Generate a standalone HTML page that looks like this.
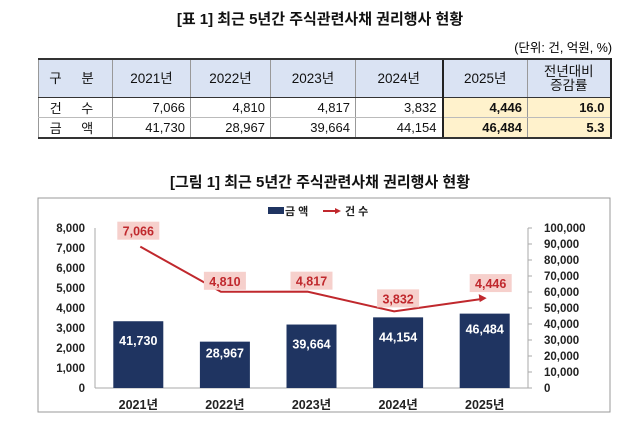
<!DOCTYPE html>
<html><head><meta charset="utf-8"><style>
body{margin:0;width:640px;height:432px;background:#fff;font-family:"Liberation Sans","Noto Sans CJK KR",sans-serif;position:relative;overflow:hidden}
.t{position:absolute;font-weight:bold;font-size:15px;color:#111;left:0;width:640px;text-align:center}
table{position:absolute;left:38px;top:58px;border-collapse:collapse;font-size:13px;color:#111;table-layout:fixed;width:572px}
td{border:1px solid #999;border-top:none;border-bottom:1px solid #bbb;padding:0 5px;text-align:right;height:19px;overflow:hidden}
tr.h td{background:#dae3f3;text-align:center;height:37px;border-top:2px solid #333;border-bottom:1px solid #333;font-size:13.5px;line-height:14px}
td.c{text-align:center;letter-spacing:8px}
tr:last-child td{border-bottom:2px solid #333}
.y{background:#fff2cc;font-weight:bold}
</style></head><body>
<div class="t" style="top:8px">[표 1] 최근 5년간 주식관련사채 권리행사 현황</div>
<div style="position:absolute;right:28px;top:37px;font-size:12.5px">(단위: 건, 억원, %)</div>
<table>
<colgroup><col style="width:74px"><col style="width:78px"><col style="width:80px"><col style="width:85px"><col style="width:87px"><col style="width:85px"><col style="width:83px"></colgroup>
<tr class="h"><td class="c">구 분</td><td>2021년</td><td>2022년</td><td>2023년</td><td>2024년</td><td style="border-left:2px solid #222">2025년</td><td style="border-right:2px solid #222">전년대비<br>증감률</td></tr>
<tr><td class="c">건 수</td><td>7,066</td><td>4,810</td><td>4,817</td><td>3,832</td><td class="y" style="border-left:2px solid #222">4,446</td><td class="y" style="border-right:2px solid #222">16.0</td></tr>
<tr><td class="c">금 액</td><td>41,730</td><td>28,967</td><td>39,664</td><td>44,154</td><td class="y" style="border-left:2px solid #222">46,484</td><td class="y" style="border-right:2px solid #222">5.3</td></tr>
</table>
<div class="t" style="top:171px">[그림 1] 최근 5년간 주식관련사채 권리행사 현황</div>
<svg id="c" width="640" height="432" style="position:absolute;left:0;top:0">
<rect x="38" y="198" width="572" height="214" fill="none" stroke="#999"/>
</svg>
<script>
const categories=["2021년","2022년","2023년","2024년","2025년"];
const amounts=[41730,28967,39664,44154,46484];
const counts=[7066,4810,4817,3832,4446];
const leftTicks=[0,1000,2000,3000,4000,5000,6000,7000,8000];
const rightTicks=[0,10000,20000,30000,40000,50000,60000,70000,80000,90000,100000];
const s=document.getElementById('c'),NS='http://www.w3.org/2000/svg';
const X0=95,X1=528,Y0=388,Y1=228,bw=(X1-X0)/categories.length;
const xc=i=>X0+bw*(i+.5),yl=v=>Y0-(v/8000)*(Y0-Y1),yr=v=>Y0-(v/100000)*(Y0-Y1);
function el(t,a,txt){const e=document.createElementNS(NS,t);for(const k in a)e.setAttribute(k,a[k]);if(txt!=null)e.textContent=txt;s.appendChild(e);return e;}
const f=v=>v.toLocaleString('en-US');
let e=el('line',{x1:X0,x2:X0,y1:Y1,y2:Y0,stroke:'#aaa'});
e=el('line',{x1:X1,x2:X1,y1:Y1,y2:Y0,stroke:'#aaa'});
e=el('line',{x1:X0,x2:X1,y1:Y0,y2:Y0,stroke:'#aaa'});
leftTicks.forEach(v=>{const t=el('text',{x:85,y:yl(v)+4,'text-anchor':'end','font-size':11.5,'font-weight':'bold',fill:'#222'},f(v));});
rightTicks.forEach(v=>{el('line',{x1:X1,x2:X1+4,y1:yr(v),y2:yr(v),stroke:'#aaa'});const t=el('text',{x:544,y:yr(v)+4,'font-size':11.5,'font-weight':'bold',fill:'#222'},f(v));});
categories.forEach((c,i)=>{
const b=el('rect',{x:xc(i)-25,y:yr(amounts[i]),width:50,height:Y0-yr(amounts[i]),fill:'#1f3461'});
const t=el('text',{x:xc(i),y:yr(amounts[i])+(i==1?16:i==4?20:24),'text-anchor':'middle','font-size':12.5,'font-weight':'bold',fill:'#fff'},f(amounts[i]));
const xl=el('text',{x:xc(i),y:409,'text-anchor':'middle','font-size':12.5,'font-weight':'bold',fill:'#222'},c);
});
const pts=counts.map((v,i)=>[i==0?xc(i)+2:xc(i)-4,yl(v)]);
e=el('polyline',{points:pts.map(p=>p.join(',')).join(' '),fill:'none',stroke:'#c0282d','stroke-width':2});
const p=pts[4];el('path',{d:`M${p[0]+6},${p[1]-1} l-8,-4 l1,8 z`,fill:'#c0282d'});
const off=[-15,-10,-10,-12,-15];
counts.forEach((v,i)=>{const cx=xc(i)+(i==4?6:0),cy=yl(v)+off[i];
el('rect',{x:cx-21,y:cy-10,width:42,height:18,fill:'#f6d0cc'});
const t=el('text',{x:cx,y:cy+4,'text-anchor':'middle','font-size':12.5,'font-weight':'bold',fill:'#c0282d'},f(v));});
const lg=el('g',{});
el('rect',{x:268,y:207,width:16,height:7,fill:'#1f3461'});
el('text',{x:285,y:215,'font-size':11,'font-weight':'bold',fill:'#222'},'금 액');
el('line',{x1:323,x2:337,y1:211,y2:211,stroke:'#c0282d','stroke-width':2});
el('path',{d:'M341,211 l-6,-3 v6 z',fill:'#c0282d'});
el('text',{x:345,y:215,'font-size':11,'font-weight':'bold',fill:'#222'},'건 수');
</script>
</body></html>
